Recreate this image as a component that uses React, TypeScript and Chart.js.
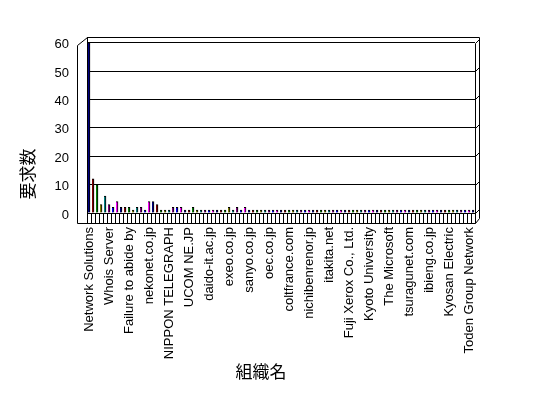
import React, { useEffect, useRef } from "react";
import { Chart, registerables } from "chart.js";

Chart.register(...registerables);

// Labels visible on the x axis (every 5th organisation)
const shownLabels: string[] = [
  "Network Solutions",
  "Whois Server",
  "Failure to abide by",
  "nekonet.co.jp",
  "NIPPON TELEGRAPH",
  "UCOM NE.JP",
  "daido-it.ac.jp",
  "exeo.co.jp",
  "sanyo.co.jp",
  "oec.co.jp",
  "coltfrance.com",
  "nichibenrenor.jp",
  "itakita.net",
  "Fuji Xerox Co., Ltd.",
  "Kyoto University",
  "The Microsoft",
  "tsuragunet.com",
  "ibieng.co.jp",
  "Kyosan Electric",
  "Toden Group Network",
];
const labelStep = 5;

// Request counts per organisation (97 organisations)
const requestCounts: number[] = [
  60, 12, 10, 3, 6, 3, 2, 4, 2, 2,
  2, 1, 2, 2, 1, 4, 4, 3, 1, 1,
  1, 2, 2, 2, 1, 1, 2, 1, 1, 1,
  1, 1, 1, 1, 1, 2, 1, 2, 1, 2,
  1, 1, 1, 1, 1, 1, 1, 1, 1, 1,
  1, 1, 1, 1, 1, 1, 1, 1, 1, 1,
  1, 1, 1, 1, 1, 1, 1, 1, 1, 1,
  1, 1, 1, 1, 1, 1, 1, 1, 1, 1,
  1, 1, 1, 1, 1, 1, 1, 1, 1, 1,
  1, 1, 1, 1, 1, 1, 1,
];

const yTicks: number[] = [0, 10, 20, 30, 40, 50, 60];
const yMax = 62;

const xTitle = "組織名";
const yTitle = "要求数";

const palette: string[] = ["#000080", "#800000", "#008000", "#808000", "#008080", "#800080", "#0000ff", "#ff00ff"];

const categories: string[] = requestCounts.map((_, i) =>
  i % labelStep === 0 && shownLabels[i / labelStep] ? shownLabels[i / labelStep] : ""
);

const framePlugin = {
  id: "frame3d",
  afterDraw(chart: any) {
    const { ctx, chartArea: a } = chart;
    const y = chart.scales.y;
    const L = Math.round(a.left) + 0.5;
    const R = Math.round(a.right) + 0.5;
    const T = Math.round(a.top) + 0.5;
    const B = Math.round(a.bottom) + 0.5;
    const y60 = Math.round(y.getPixelForValue(60)) + 0.5;
    const fl = L - 10;
    const fb = B + 10;
    const br = R + 4;
    ctx.save();
    ctx.strokeStyle = "#000";
    ctx.lineWidth = 1;
    ctx.beginPath();
    ctx.moveTo(fl, y60 + 2);
    ctx.lineTo(L, T);
    ctx.moveTo(fl, y60 + 2);
    ctx.lineTo(fl, fb);
    ctx.lineTo(R, fb);
    ctx.moveTo(L, T);
    ctx.lineTo(br, T);
    ctx.moveTo(br, T);
    ctx.lineTo(br, B + 5);
    ctx.lineTo(R, fb);
    ctx.moveTo(R, y60);
    ctx.lineTo(R, fb);
    for (const v of yTicks) {
      const py = Math.round(y.getPixelForValue(v)) + 0.5;
      ctx.moveTo(R, py);
      ctx.lineTo(br, py - 4);
    }
    ctx.stroke();

    ctx.fillStyle = "#000";
    ctx.font = '17px "Noto Sans CJK JP"';
    ctx.textAlign = "center";
    ctx.textBaseline = "middle";
    ctx.fillText(xTitle, 261, 372);
    ctx.translate(28, 174);
    ctx.rotate(-Math.PI / 2);
    ctx.fillText(yTitle, 0, 0);
    ctx.restore();
  },
};

export default function App() {
  const ref = useRef<HTMLCanvasElement | null>(null);

  useEffect(() => {
    document.body.style.margin = "0";
    const canvas = ref.current;
    if (!canvas) return;
    const chart = new Chart(canvas, {
      type: "bar",
      data: {
        labels: categories,
        datasets: [
          {
            data: requestCounts,
            backgroundColor: requestCounts.map((_, i) => palette[i % palette.length]),
            borderColor: "#000",
            borderWidth: { top: 1, right: 1, left: 0, bottom: 0 },
            barThickness: 2,
          },
        ],
      },
      options: {
        animation: false,
        responsive: false,
        devicePixelRatio: 1,
        layout: { padding: { top: 37, right: 73, left: 0, bottom: 0 } },
        plugins: {
          legend: { display: false },
          tooltip: { enabled: false },
          title: { display: false },
        },
        scales: {
          x: {
            type: "category",
            offset: true,
            grid: {
              display: true,
              drawOnChartArea: false,
              drawTicks: true,
              tickLength: 10,
              color: "#000",
              offset: true,
            },
            border: { display: true, color: "#000" },
            ticks: {
              autoSkip: false,
              maxRotation: 90,
              minRotation: 90,
              padding: 4,
              color: "#000",
              font: { family: '"Liberation Sans", Arial, sans-serif', size: 13 },
              callback: (_v: any, i: number) => categories[i],
            },
            afterFit: (s: any) => {
              s.height = 185;
            },
          },
          y: {
            min: 0,
            max: yMax,
            afterBuildTicks: (s: any) => {
              s.ticks = yTicks.map((v) => ({ value: v }));
            },
            grid: { color: "#000", drawTicks: false },
            border: { display: true, color: "#000" },
            ticks: {
              padding: 18,
              color: "#000",
              labelOffset: 2,
              font: { family: '"Liberation Sans", Arial, sans-serif', size: 13 },
            },
            afterFit: (s: any) => {
              s.width = 87;
            },
          },
        },
      },
      plugins: [framePlugin],
    });
    return () => chart.destroy();
  }, []);

  return <canvas ref={ref} width={548} height={398} style={{ display: "block" }} />;
}
